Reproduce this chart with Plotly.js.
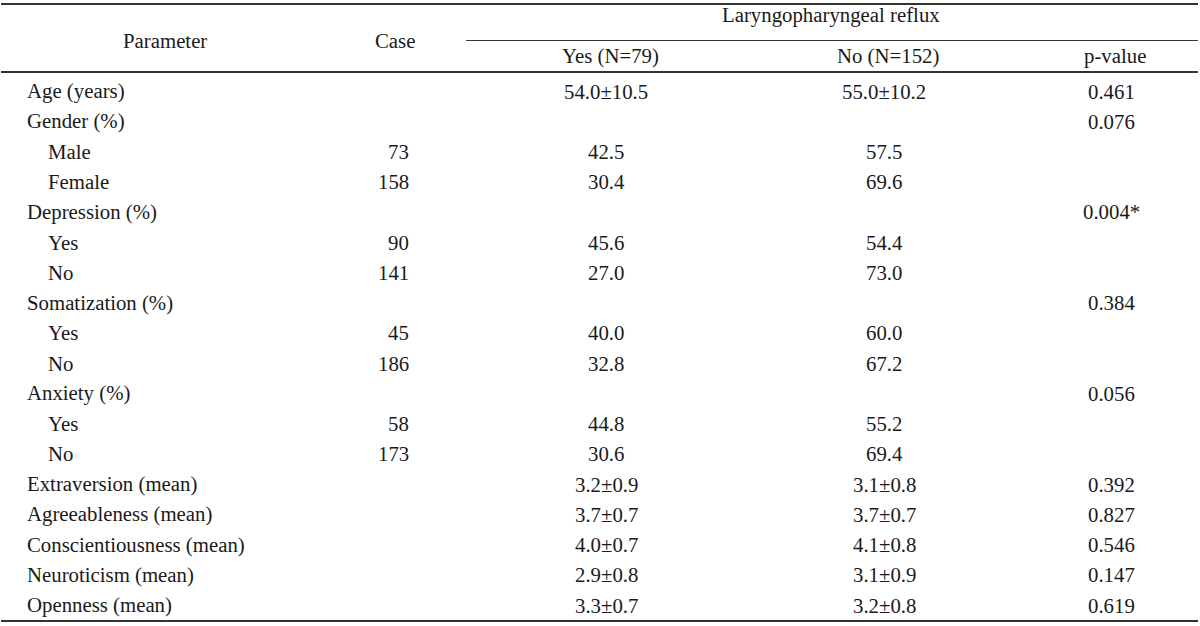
<!DOCTYPE html>
<html><head><meta charset="utf-8">
<script src="https://cdn.plot.ly/plotly-3.0.1.min.js"></script>
<style>html,body{margin:0;padding:0;background:#fff;}#chart{width:1200px;height:626px;}</style>
</head><body><div id="chart"></div>
<script>
// ---- data ----
const parameters = ["Age (years)","Gender (%)","Male","Female","Depression (%)","Yes","No","Somatization (%)","Yes","No","Anxiety (%)","Yes","No","Extraversion (mean)","Agreeableness (mean)","Conscientiousness (mean)","Neuroticism (mean)","Openness (mean)"];
const indented = [false,false,true,true,false,true,true,false,true,true,false,true,true,false,false,false,false,false];
const cases = ["","","73","158","","90","141","","45","186","","58","173","","","","",""];
const lprYes = ["54.0±10.5","","42.5","30.4","","45.6","27.0","","40.0","32.8","","44.8","30.6","3.2±0.9","3.7±0.7","4.0±0.7","2.9±0.8","3.3±0.7"];
const lprNo = ["55.0±10.2","","57.5","69.6","","54.4","73.0","","60.0","67.2","","55.2","69.4","3.1±0.8","3.7±0.7","4.1±0.8","3.1±0.9","3.2±0.8"];
const pValues = ["0.461","0.076","","","0.004*","","","0.384","","","0.056","","","0.392","0.827","0.546","0.147","0.619"];
const headerParameter = "Parameter";
const headerCase = "Case";
const headerGroup = "Laryngopharyngeal reflux";
const headerYes = "Yes (N=79)";
const headerNo = "No (N=152)";
const headerP = "p-value";

// ---- layout config ----
const FONT = {family: "'Liberation Serif','Times New Roman',serif", size: 20.8, color: "#1a1a1a"};
const row0 = 91, rowStep = 30.24;
const colX = {param: 25, paramIndent: 46, caseRight: 411, yes: 606, no: 884, p: 1111};
const annotations = [];
function add(text, x, y, anchor) {
  if (!text) return;
  annotations.push({text: text, x: x, y: y, xref: 'x', yref: 'y', xanchor: anchor, yanchor: 'middle', showarrow: false, font: FONT});
}
parameters.forEach((p, i) => {
  const y = row0 + i * rowStep;
  add(p, indented[i] ? colX.paramIndent : colX.param, y, 'left');
  add(cases[i], colX.caseRight, y, 'right');
  add(lprYes[i], colX.yes, y, 'center');
  add(lprNo[i], colX.no, y, 'center');
  add(pValues[i], colX.p, y, 'center');
});
add(headerParameter, 165, 40, 'center');
add(headerCase, 395, 40, 'center');
add(headerGroup, 831, 15, 'center');
add(headerYes, 610, 56, 'center');
add(headerNo, 888, 56, 'center');
add(headerP, 1115, 56, 'center');

const lineColor = "#333";
const shapes = [
  {type:'line', xref:'x', yref:'y', x0:1, x1:1198, y0:4, y1:4, line:{color:lineColor, width:2.2}},
  {type:'line', xref:'x', yref:'y', x0:466, x1:1198, y0:40.5, y1:40.5, line:{color:lineColor, width:1}},
  {type:'line', xref:'x', yref:'y', x0:1, x1:1198, y0:72, y1:72, line:{color:lineColor, width:2.2}},
  {type:'line', xref:'x', yref:'y', x0:1, x1:1198, y0:621, y1:621, line:{color:lineColor, width:2.2}}
];

Plotly.newPlot('chart', [{x:[], y:[], type:'scatter', mode:'markers', hoverinfo:'skip', showlegend:false}], {
  width: 1200, height: 626,
  margin: {l:0, r:0, t:0, b:0},
  paper_bgcolor: '#fff', plot_bgcolor: '#fff',
  xaxis: {range:[0,1200], visible:false, fixedrange:true},
  yaxis: {range:[626,0], visible:false, fixedrange:true},
  annotations: annotations,
  shapes: shapes,
  showlegend: false
}, {staticPlot: true, displayModeBar: false});
</script>
</body></html>
